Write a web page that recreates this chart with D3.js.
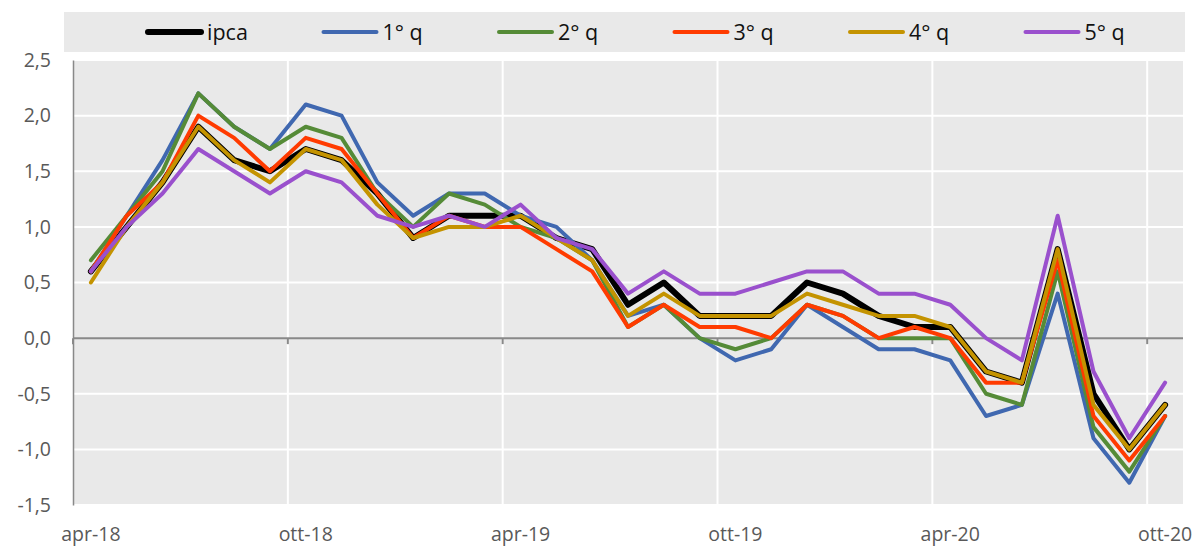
<!DOCTYPE html>
<html>
<head>
<meta charset="utf-8">
<script src="https://cdn.jsdelivr.net/npm/d3@7"></script>
<style>
  body { margin: 0; background: #fff; }
  svg { font-family: "Open Sans", sans-serif; }
</style>
</head>
<body>
<div id="svg-container"></div>
<script>
// mesi (asse x)
const months = [
  "apr-18", "mag-18", "giu-18", "lug-18", "ago-18", "set-18", "ott-18", "nov-18", "dic-18",
  "gen-19", "feb-19", "mar-19", "apr-19", "mag-19", "giu-19", "lug-19", "ago-19", "set-19",
  "ott-19", "nov-19", "dic-19", "gen-20", "feb-20", "mar-20", "apr-20", "mag-20", "giu-20",
  "lug-20", "ago-20", "set-20", "ott-20"
]

// serie
const ipca = [0.6, 1.0, 1.4, 1.9, 1.6, 1.5, 1.7, 1.6, 1.3, 0.9, 1.1, 1.1, 1.1, 0.9, 0.8, 0.3, 0.5, 0.2, 0.2, 0.2, 0.5, 0.4, 0.2, 0.1, 0.1, -0.3, -0.4, 0.8, -0.5, -1.0, -0.6]
const q1 = [0.6, 1.1, 1.6, 2.2, 1.9, 1.7, 2.1, 2.0, 1.4, 1.1, 1.3, 1.3, 1.1, 1.0, 0.7, 0.2, 0.3, 0.0, -0.2, -0.1, 0.3, 0.1, -0.1, -0.1, -0.2, -0.7, -0.6, 0.4, -0.9, -1.3, -0.7]
const q2 = [0.7, 1.1, 1.5, 2.2, 1.9, 1.7, 1.9, 1.8, 1.3, 1.0, 1.3, 1.2, 1.0, 0.9, 0.7, 0.1, 0.3, 0.0, -0.1, 0.0, 0.3, 0.2, 0.0, 0.0, 0.0, -0.5, -0.6, 0.6, -0.8, -1.2, -0.7]
const q3 = [0.6, 1.1, 1.4, 2.0, 1.8, 1.5, 1.8, 1.7, 1.3, 0.9, 1.1, 1.0, 1.0, 0.8, 0.6, 0.1, 0.3, 0.1, 0.1, 0.0, 0.3, 0.2, 0.0, 0.1, 0.0, -0.4, -0.4, 0.7, -0.7, -1.1, -0.7]
const q4 = [0.5, 1.0, 1.4, 1.9, 1.6, 1.4, 1.7, 1.6, 1.2, 0.9, 1.0, 1.0, 1.1, 0.9, 0.7, 0.2, 0.4, 0.2, 0.2, 0.2, 0.4, 0.3, 0.2, 0.2, 0.1, -0.3, -0.4, 0.8, -0.6, -1.0, -0.6]
const q5 = [0.6, 1.0, 1.3, 1.7, 1.5, 1.3, 1.5, 1.4, 1.1, 1.0, 1.1, 1.0, 1.2, 0.9, 0.8, 0.4, 0.6, 0.4, 0.4, 0.5, 0.6, 0.6, 0.4, 0.4, 0.3, 0.0, -0.2, 1.1, -0.3, -0.9, -0.4]

const seriesNames = ["ipca", "1° q", "2° q", "3° q", "4° q", "5° q"]
const yTicks = [-1.5, -1.0, -0.5, 0.0, 0.5, 1.0, 1.5, 2.0, 2.5]
const xTickLabels = ["apr-18", "ott-18", "apr-19", "ott-19", "apr-20", "ott-20"]

const colors = ["#000000", "#4068b0", "#558b37", "#ff3b00", "#c49300", "#9a50cd"]
const widths = [6, 4, 4, 4, 4, 4]

const series = [ipca, q1, q2, q3, q4, q5].map((values, k) => ({
    name: seriesNames[k],
    color: colors[k],
    width: widths[k],
    values: values
}))

const width = 1195
const height = 549
const margin = { top: 60, right: 12, bottom: 44, left: 73 }

const svg = d3.select('#svg-container')
    .append('svg').attr('width', width).attr('height', height)

const x = d3.scaleBand()
    .domain(months)
    .range([margin.left, width - margin.right])
    .padding(0)
const xMid = m => x(m) + x.bandwidth() / 2

const y = d3.scaleLinear()
    .domain([-1.5, 2.5])
    .range([height - margin.bottom, margin.top])

// sfondo area grafico
svg.append('rect')
    .attr('x', margin.left).attr('y', margin.top)
    .attr('width', width - margin.right - margin.left)
    .attr('height', height - margin.bottom - margin.top)
    .attr('fill', '#e9e9e9')

// griglia orizzontale
svg.append('g').selectAll('line').data(yTicks.filter(d => d !== 0))
    .enter().append('line')
    .attr('x1', margin.left).attr('x2', width - margin.right)
    .attr('y1', d => y(d)).attr('y2', d => y(d))
    .attr('stroke', '#fff').attr('stroke-width', 2)

// griglia verticale ogni 6 mesi
const sixMonths = months.filter((d, i) => i % 6 === 0)
svg.append('g').selectAll('line').data(sixMonths.slice(1))
    .enter().append('line')
    .attr('x1', d => x(d)).attr('x2', d => x(d))
    .attr('y1', margin.top).attr('y2', height - margin.bottom)
    .attr('stroke', '#fff').attr('stroke-width', 2)

// asse y
const yAxis = svg.append('g')
    .attr('transform', `translate(${margin.left},0)`)
    .call(d3.axisLeft(y).tickValues(yTicks)
        .tickFormat(d => d3.format('.1f')(d).replace('.', ',').replace('−', '-'))
        .tickSize(0).tickPadding(22))
yAxis.select('.domain').attr('stroke', '#898989').attr('stroke-width', 1.5)
yAxis.selectAll('text').attr('fill', '#595959').style('font-size', '19.5px')
    .style('font-family', '"Open Sans", sans-serif')

// linea dello zero con tacche
svg.append('line')
    .attr('x1', margin.left).attr('x2', width - margin.right)
    .attr('y1', y(0)).attr('y2', y(0))
    .attr('stroke', '#898989').attr('stroke-width', 2)
svg.append('g').selectAll('line').data(sixMonths)
    .enter().append('line')
    .attr('x1', d => x(d)).attr('x2', d => x(d))
    .attr('y1', y(0)).attr('y2', y(0) + 6)
    .attr('stroke', '#898989').attr('stroke-width', 2)

// asse x
const xAxis = svg.append('g')
    .attr('transform', `translate(0,${height - margin.bottom})`)
    .call(d3.axisBottom(x).tickValues(xTickLabels).tickSize(0).tickPadding(22))
xAxis.select('.domain').remove()
xAxis.selectAll('text').attr('fill', '#595959').style('font-size', '19.5px')
    .style('font-family', '"Open Sans", sans-serif')

// linee
const line = d3.line()
    .x((d, i) => xMid(months[i]))
    .y(d => y(d))

svg.append('g').selectAll('path').data(series)
    .enter().append('path')
    .attr('d', d => line(d.values))
    .attr('fill', 'none')
    .attr('stroke', d => d.color)
    .attr('stroke-width', d => d.width)
    .attr('stroke-linejoin', 'round')
    .attr('stroke-linecap', 'round')

// legenda
const legend = svg.append('g')
legend.append('rect')
    .attr('x', 64).attr('y', 12).attr('width', 1121).attr('height', 40)
    .attr('fill', '#e9e9e9')
const item = legend.selectAll('g.item').data(series)
    .enter().append('g').attr('class', 'item')
    .attr('transform', (d, i) => `translate(${148 + i * 175.5},32)`)
item.append('line')
    .attr('x1', 0).attr('x2', 53)
    .attr('stroke', d => d.color)
    .attr('stroke-width', d => d.width)
    .attr('stroke-linecap', 'round')
item.append('text')
    .attr('x', 59).attr('dy', '0.35em')
    .style('font-size', '21.5px')
    .attr('fill', '#111')
    .text(d => d.name)
</script>
</body>
</html>
